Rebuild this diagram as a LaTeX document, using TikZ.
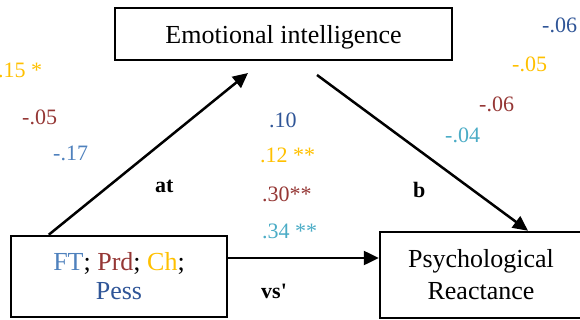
\documentclass[tikz,border=0pt]{standalone}
\usepackage{fontspec}
\setmainfont{Liberation Serif}
\usetikzlibrary{arrows.meta}
\definecolor{cOr}{HTML}{FFC000}
\definecolor{cPrd}{HTML}{953735}
\definecolor{cFT}{HTML}{4F81BD}
\definecolor{cPess}{HTML}{2F5597}
\definecolor{cLB}{HTML}{4BACC6}
\tikzset{
  box/.style={draw, line width=2.5pt, inner sep=0pt, align=center, font=\fontsize{26}{29}\selectfont},
  num/.style={anchor=base west, inner sep=0pt, font=\fontsize{22}{26}\selectfont},
  lab/.style={anchor=base west, inner sep=0pt, font=\fontsize{22}{26}\selectfont\bfseries},
  conn/.style={line width=2.5pt, -{Triangle[length=15pt,width=14pt]}}
}
\begin{document}
\begin{tikzpicture}[x=1pt,y=-1pt]
\useasboundingbox (0,0) rectangle (580,320);
\clip (0,0) rectangle (580,320);
\node[box, minimum width=337pt, minimum height=52pt, text height=20pt, text depth=0pt] (ei) at (283.5,34) {Emotional intelligence};
\node[box, minimum width=216pt, minimum height=81pt] (pred) at (119,276.5) {\textcolor{cFT}{FT}; \textcolor{cPrd}{Prd}; \textcolor{cOr}{Ch};\\ \textcolor{cPess}{Pess}};
\node[box, minimum width=202pt, minimum height=86pt, font=\fontsize{26}{32}\selectfont] (pr) at (481,275) {Psychological\\Reactance};
\coordinate (eiL) at (248,73);
\coordinate (eiR) at (317,75);
\coordinate (hl) at (0,258);
\draw[conn] ([xshift=39pt]pred.north west) -- (eiL);
\draw[conn] (eiR) -- ([xshift=47pt]pr.north);
\draw[conn] (pred.east |- hl) -- (pr.west |- hl);
\node[lab] (at) at (155,193) {at};
\node[lab] (b) at (413,198) {b};
\node[lab] (vs) at (261,298) {vs\textquotesingle};
\node[num, text=cOr] (n1) at (-2,78) {.15 *};
\node[num, text=cPrd] (n2) at (22,125) {-.05};
\node[num, text=cFT] (n3) at (53,161) {-.17};
\node[num, text=cPess] (n4) at (269,128) {.10};
\node[num, text=cOr] (n5) at (260,163) {.12 **};
\node[num, text=cPrd] (n6) at (262,202) {.30**};
\node[num, text=cLB] (n7) at (262,238) {.34 **};
\node[num, text=cPess] (n8) at (542,33) {-.06};
\node[num, text=cOr] (n9) at (512,72) {-.05};
\node[num, text=cPrd] (n10) at (479,112) {-.06};
\node[num, text=cLB] (n11) at (445,143) {-.04};
\end{tikzpicture}
\end{document}
